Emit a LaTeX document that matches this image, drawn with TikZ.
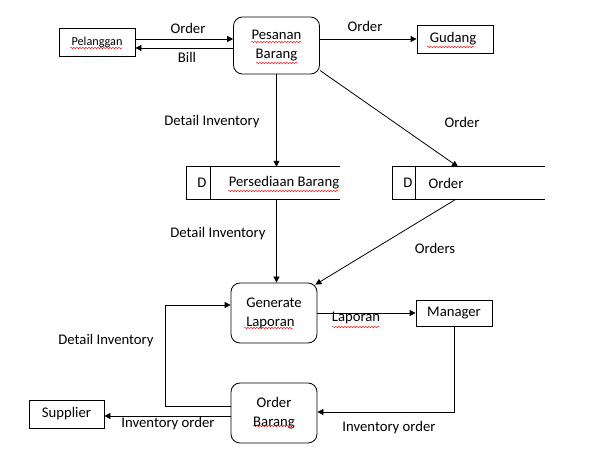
\documentclass[tikz,border=0pt]{standalone}
\usepackage{fontspec}
\setmainfont{Carlito}
\usetikzlibrary{arrows.meta,decorations.pathmorphing}
\tikzset{
  x=1pt,y=-1pt,
  every node/.style={font=\fontsize{14.7}{19}\selectfont, inner sep=0pt},
  entity/.style={draw, line width=0.8pt, minimum width=#1, minimum height=27pt},
  proc/.style={draw, line width=0.8pt, rounded corners=9pt, minimum width=86pt, minimum height=58pt, align=center},
  arr/.style={line width=0.8pt, -{Triangle[length=6pt,width=6pt]}},
  ln/.style={line width=0.8pt},
  lbl/.style={},
  squig/.style={red, line width=0.45pt, decorate, decoration={snake, segment length=3pt, amplitude=0.7pt}}
}
\begin{document}
\begin{tikzpicture}
\useasboundingbox (0,0) rectangle (590,449);
% entities
\node[entity=76pt, minimum height=28pt, font=\fontsize{12.2}{15}\selectfont] (pel) at (97,42) {Pelanggan};
\node[entity=76pt, minimum height=28pt] (gud) at (455,39) {\hspace*{-4pt}Gudang};
\node[entity=76pt, minimum height=26pt] (man) at (454,313) {Manager};
\node[entity=75pt, minimum height=28pt] (sup) at (66.5,414) {Supplier};
% processes
\node[proc, minimum height=57pt] (pes) at (276.5,45.5) {Pesanan\\Barang};
\node[proc, minimum height=60pt, align=left] (gen) at (274,313) {Generate\\Laporan};
\node[proc, minimum height=60pt] (ob) at (274,413) {Order\\Barang};
% data stores
\node[minimum width=153pt, minimum height=32pt] (ps) at (263.5,183) {};
\node[minimum width=152pt, minimum height=32pt] (os) at (469,183) {};
\draw[ln] (ps.north east) -- (ps.north west) -- (ps.south west) -- (ps.south east);
\draw[ln] ([xshift=24pt]ps.north west) -- ([xshift=24pt]ps.south west);
\draw[ln] (os.north east) -- (os.north west) -- (os.south west) -- (os.south east);
\draw[ln] ([xshift=23pt]os.north west) -- ([xshift=23pt]os.south west);
\node (psd) at (202,183) {D};
\node (pst) at (284,183) {Persediaan Barang};
\node (osd) at (408,183) {D};
\node (ost) at (446,183) {Order};
% connectors
\draw[arr] ([yshift=3pt]pel.east) -- ([yshift=3pt]pel.east -| pes.west);
\draw[arr] ([yshift=-6pt]pel.east -| pes.west) -- ([yshift=-6pt]pel.east);
\draw[arr] (pes.east |- gud.west) -- (gud.west);
\draw[arr] (pes.south) -- (pes.south |- ps.north);
\draw[arr] ([yshift=4pt]pes.south east) -- ([xshift=-11pt]os.north);
\draw[arr] (pes.south |- ps.south) -- (pes.south |- gen.north);
\draw[arr] ([xshift=-13pt]os.south) -- ([xshift=-2pt,yshift=-2pt]gen.north east);
\draw[arr] (gen.east |- man.west) -- (man.west);
\draw[arr] (man.south) |- ([yshift=1pt]ob.east);
\draw[arr] ([yshift=-3pt]ob.west) -- ([yshift=-3pt]ob.west -| sup.east);
\draw[arr] ([yshift=7pt]ob.west) -- ++(-65,0) |- ([yshift=8pt]gen.west);
% labels
\node[lbl] (l1) at (188,28) {Order};
\node[lbl] (l2) at (187,57) {Bill};
\node[lbl] (l3) at (365,26) {Order};
\node[lbl] (l4) at (212,122) {Detail Inventory};
\node[lbl] (l5) at (462,122) {Order};
\node[lbl] (l6) at (218,234) {Detail Inventory};
\node[lbl] (l7) at (435,248) {Orders};
\node[lbl] (l8) at (356,318) {Laporan};
\node[lbl] (l9) at (106,341) {Detail Inventory};
\node[lbl] (l10) at (168,424) {Inventory order};
\node[lbl] (l11) at (389,428) {Inventory order};
% spell-check underlines
\draw[squig] (70,48) -- (122,48);
\draw[squig] (251,42) -- (301,42);
\draw[squig] (256,63) -- (297,63);
\draw[squig] (427,47) -- (475,47);
\draw[squig] (228,191) -- (339,191);
\draw[squig] (244,328) -- (293,328);
\draw[squig] (332,327) -- (380,327);
\draw[squig] (253,426) -- (295,426);
\end{tikzpicture}
\end{document}
